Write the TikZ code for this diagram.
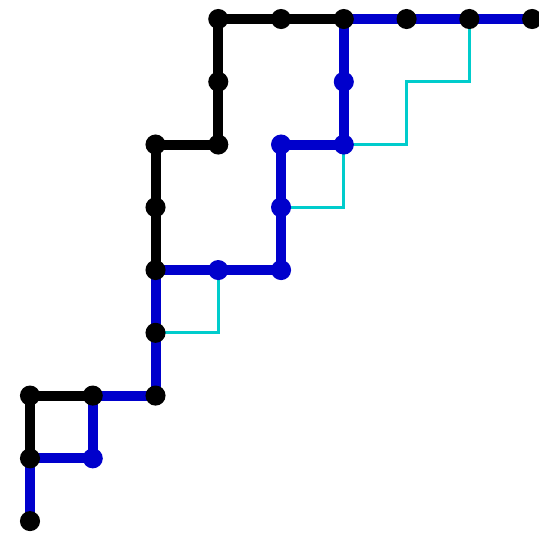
\documentclass[tikz,border=0pt]{standalone}
\usepackage{tikz}
\usetikzlibrary{positioning,calc}
\definecolor{pathblue}{RGB}{0,0,204}
\definecolor{stepcyan}{RGB}{0,204,204}

\begin{document}
\begin{tikzpicture}
            \tikzstyle{vert}=[circle, fill=black,
            inner sep=0pt, minimum width=0.32cm]
            \tikzstyle{bvert}=[vert, fill=pathblue]
            \tikzstyle{upper}=[line width=0.16cm, black]
            \tikzstyle{lower}=[line width=0.16cm, pathblue]
            \tikzstyle{gap}=[line width=0.048cm, stepcyan]
            \useasboundingbox (-0.478,-0.175) rectangle (8.11,8.303);
            % lattice points
            \coordinate (p00) at (0,0);
            \coordinate (p01) at (0,1);
            \coordinate (p02) at (0,2);
            \coordinate (p11) at (1,1);
            \coordinate (p12) at (1,2);
            \coordinate (p22) at (2,2);
            \coordinate (p23) at (2,3);
            \coordinate (p24) at (2,4);
            \coordinate (p25) at (2,5);
            \coordinate (p26) at (2,6);
            \coordinate (p34) at (3,4);
            \coordinate (p36) at (3,6);
            \coordinate (p37) at (3,7);
            \coordinate (p38) at (3,8);
            \coordinate (p44) at (4,4);
            \coordinate (p45) at (4,5);
            \coordinate (p46) at (4,6);
            \coordinate (p48) at (4,8);
            \coordinate (p56) at (5,6);
            \coordinate (p57) at (5,7);
            \coordinate (p58) at (5,8);
            \coordinate (p68) at (6,8);
            \coordinate (p78) at (7,8);
            \coordinate (p88) at (8,8);
            \coordinate (c67) at (6,7);
            % upper path
            \draw[upper] (p01) -- (p02) -- (p12);
            \draw[upper] (p24) -- (p25) -- (p26) -- (p36) -- (p37) -- (p38) -- (p48) -- (p58);
            % lower path
            \draw[lower] (p00) -- (p01) -- (p11) -- (p12) -- (p22) -- (p23) -- (p24)
                -- (p34) -- (p44) -- (p45) -- (p46) -- (p56) -- (p57) -- (p58)
                -- (p68) -- (p78) -- (p88);
            % cells between
            \draw[gap] (p34) |- (p23);
            \draw[gap] (p56) |- (p45);
            \draw[gap] (p56) -| (c67) -| (p78);
            % dots
            \foreach \p in {p00,p01,p02,p12,p22,p23,p24,p25,p26,p36,p37,p38,p48,p58,p68,p78,p88}
                \node[vert] (d\p) at (\p) {};
            \foreach \p in {p11,p34,p44,p45,p46,p56,p57}
                \node[bvert] (d\p) at (\p) {};
        \end{tikzpicture}
\end{document}
